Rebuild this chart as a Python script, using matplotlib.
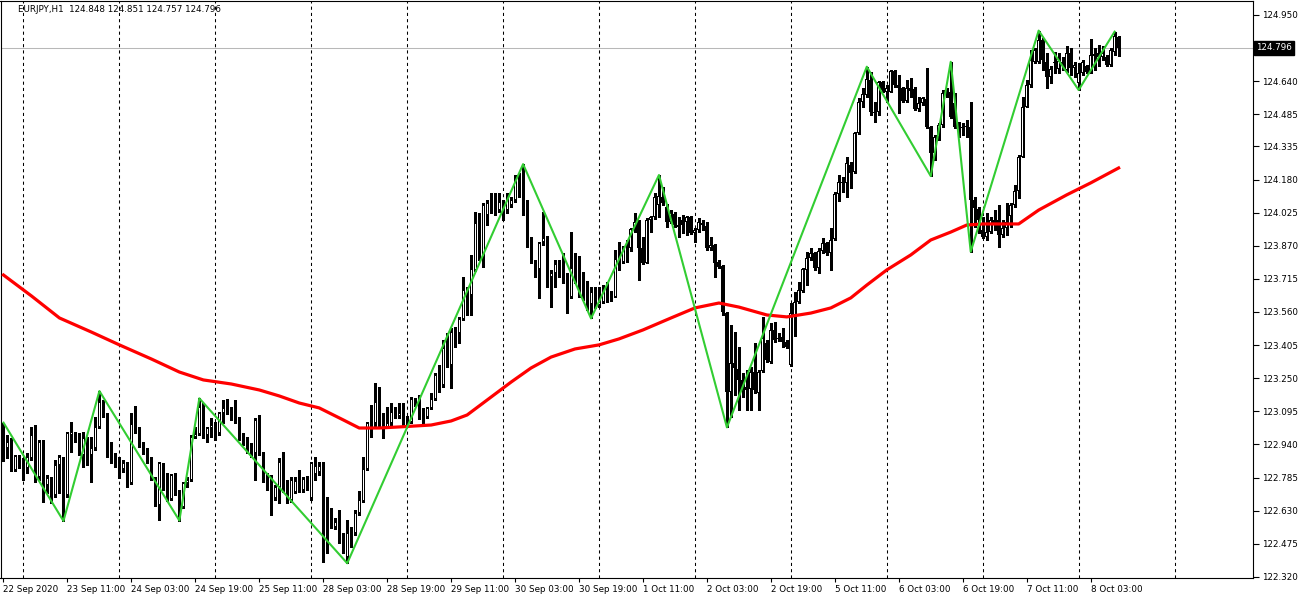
import numpy as np
import matplotlib.pyplot as plt
import matplotlib.transforms as mtransforms

# EURJPY H1 candles, oldest first
opens = [
    122.953, 122.922, 122.953, 122.821, 122.883, 122.844, 122.829, 122.875, 122.985, 122.790,
    122.953, 122.751, 122.782, 122.704, 122.844, 122.883, 122.704, 122.985, 122.996, 122.961,
    122.891, 122.969, 122.891, 122.922, 123.024, 123.141, 123.078, 122.889, 122.896, 122.880,
    122.824, 122.852, 122.758, 123.036, 123.000, 122.933, 122.907, 122.875, 122.782, 122.657,
    122.852, 122.797, 122.684, 122.797, 122.712, 122.649, 122.758, 122.774, 122.974, 122.989,
    123.114, 122.985, 123.016, 123.023, 122.992, 123.086, 123.109, 123.106, 123.098, 123.039,
    122.972, 122.964, 122.930, 122.899, 123.055, 122.899, 122.786, 122.793, 122.688, 122.743,
    122.860, 122.758, 122.680, 122.719, 122.771, 122.727, 122.782, 122.688, 122.802, 122.809,
    122.840, 122.626, 122.637, 122.553, 122.587, 122.501, 122.415, 122.525, 122.525, 122.618,
    122.677, 122.826, 123.039, 123.039, 123.141, 123.039, 123.024, 123.039, 123.094, 123.071,
    123.078, 123.055, 123.046, 123.153, 123.129, 123.067, 123.070, 123.109, 123.153, 123.265,
    123.218, 123.401, 123.312, 123.468, 123.463, 123.525, 123.663, 123.639, 123.756, 123.975,
    123.819, 124.014, 124.071, 124.034, 124.037, 124.076, 124.037, 124.060, 124.084, 124.181,
    124.143, 124.076, 123.866, 123.792, 123.760, 123.889, 123.909, 123.722, 123.741, 123.780,
    123.764, 123.728, 123.632, 123.764, 123.769, 123.741, 123.702, 123.597, 123.650, 123.593,
    123.608, 123.660, 123.624, 123.631, 123.806, 123.795, 123.850, 123.858, 123.947, 123.982,
    123.858, 123.791, 123.990, 124.003, 124.060, 124.099, 124.053, 123.982, 124.018, 123.967,
    123.990, 123.982, 124.003, 123.928, 123.943, 123.978, 123.962, 123.858, 123.873, 123.795,
    123.775, 123.557, 123.187, 123.323, 123.292, 123.242, 123.207, 123.198, 123.281, 123.179,
    123.285, 123.413, 123.327, 123.476, 123.437, 123.441, 123.421, 123.312, 123.546, 123.608,
    123.660, 123.756, 123.811, 123.835, 123.765, 123.846, 123.882, 123.835, 123.900, 124.111,
    124.162, 124.162, 124.248, 124.214, 124.396, 124.542, 124.576, 124.646, 124.498, 124.498,
    124.635, 124.591, 124.591, 124.688, 124.623, 124.610, 124.548, 124.607, 124.602, 124.508,
    124.540, 124.555, 124.424, 124.302, 124.377, 124.435, 124.596, 124.591, 124.536, 124.424,
    124.427, 124.427, 124.427, 124.084, 124.040, 123.944, 123.912, 123.936, 123.990, 123.990,
    123.920, 123.952, 124.007, 124.061, 124.124, 124.287, 124.521, 124.623, 124.732, 124.732,
    124.833, 124.732, 124.662, 124.724, 124.696, 124.732, 124.693, 124.771, 124.701, 124.631,
    124.677, 124.709, 124.685, 124.759, 124.771, 124.755, 124.755, 124.716, 124.779, 124.848,
]
highs = [
    123.042, 122.985, 122.969, 122.891, 122.891, 122.875, 122.899, 123.024, 123.031, 122.961,
    122.961, 122.797, 122.790, 122.868, 122.891, 122.883, 123.000, 123.047, 123.000, 122.992,
    123.000, 122.977, 122.977, 123.070, 123.190, 123.148, 123.086, 122.953, 122.902, 122.883,
    122.868, 122.860, 123.086, 123.120, 123.024, 122.953, 122.922, 122.880, 122.790, 122.860,
    122.855, 122.805, 122.802, 122.805, 122.727, 122.766, 122.790, 122.985, 123.024, 123.156,
    123.133, 123.023, 123.062, 123.047, 123.094, 123.148, 123.151, 123.117, 123.148, 123.070,
    122.992, 122.977, 122.945, 123.062, 123.078, 122.906, 122.805, 122.797, 122.750, 122.875,
    122.906, 122.774, 122.789, 122.786, 122.821, 122.786, 122.793, 122.860, 122.883, 122.860,
    122.860, 122.696, 122.642, 122.595, 122.634, 122.525, 122.587, 122.556, 122.634, 122.720,
    122.883, 123.047, 123.125, 123.227, 123.211, 123.086, 123.117, 123.133, 123.117, 123.133,
    123.133, 123.071, 123.160, 123.157, 123.171, 123.109, 123.117, 123.179, 123.273, 123.312,
    123.429, 123.460, 123.483, 123.491, 123.538, 123.725, 123.678, 123.826, 124.029, 124.021,
    124.068, 124.084, 124.115, 124.115, 124.115, 124.084, 124.115, 124.100, 124.201, 124.209,
    124.252, 124.084, 123.912, 123.803, 123.889, 124.029, 123.916, 123.756, 123.803, 123.803,
    123.834, 123.741, 123.936, 123.834, 123.822, 123.749, 123.707, 123.678, 123.678, 123.678,
    123.686, 123.702, 123.660, 123.850, 123.889, 123.869, 123.897, 123.951, 124.025, 123.990,
    123.912, 123.998, 124.009, 124.115, 124.201, 124.146, 124.065, 124.037, 124.029, 124.006,
    124.014, 124.009, 124.009, 123.951, 123.998, 123.990, 123.982, 123.912, 123.878, 123.803,
    123.780, 123.561, 123.499, 123.468, 123.398, 123.273, 123.288, 123.304, 123.413, 123.288,
    123.535, 123.429, 123.507, 123.515, 123.460, 123.483, 123.429, 123.600, 123.655, 123.702,
    123.764, 123.842, 123.858, 123.843, 123.858, 123.905, 123.889, 123.952, 124.123, 124.201,
    124.194, 124.287, 124.264, 124.404, 124.560, 124.607, 124.708, 124.685, 124.545, 124.641,
    124.641, 124.622, 124.693, 124.693, 124.669, 124.615, 124.646, 124.653, 124.611, 124.568,
    124.568, 124.700, 124.430, 124.388, 124.443, 124.599, 124.607, 124.731, 124.583, 124.451,
    124.443, 124.458, 124.544, 124.100, 124.053, 124.006, 124.022, 124.006, 124.037, 124.061,
    123.990, 124.069, 124.069, 124.155, 124.295, 124.568, 124.646, 124.787, 124.794, 124.877,
    124.841, 124.771, 124.709, 124.779, 124.771, 124.755, 124.805, 124.794, 124.732, 124.724,
    124.740, 124.716, 124.837, 124.794, 124.810, 124.805, 124.763, 124.794, 124.872, 124.851,
]
lows = [
    122.864, 122.875, 122.818, 122.818, 122.829, 122.774, 122.805, 122.868, 122.766, 122.774,
    122.673, 122.712, 122.665, 122.696, 122.712, 122.582, 122.696, 122.907, 122.953, 122.891,
    122.836, 122.844, 122.766, 122.914, 123.016, 123.070, 122.880, 122.852, 122.833, 122.782,
    122.813, 122.743, 122.755, 122.992, 122.930, 122.896, 122.852, 122.774, 122.652, 122.587,
    122.727, 122.677, 122.680, 122.704, 122.584, 122.641, 122.743, 122.771, 122.969, 122.985,
    122.970, 122.953, 122.977, 122.961, 122.984, 123.039, 123.083, 123.055, 123.039, 122.961,
    122.938, 122.899, 122.883, 122.774, 122.891, 122.766, 122.727, 122.610, 122.680, 122.665,
    122.719, 122.665, 122.672, 122.711, 122.719, 122.719, 122.727, 122.681, 122.774, 122.798,
    122.392, 122.431, 122.548, 122.543, 122.478, 122.431, 122.384, 122.462, 122.517, 122.610,
    122.673, 122.821, 122.977, 123.024, 123.024, 122.969, 123.016, 123.024, 123.063, 123.063,
    123.032, 123.024, 123.039, 123.118, 123.057, 123.039, 123.062, 123.104, 123.150, 123.187,
    123.210, 123.304, 123.202, 123.397, 123.413, 123.522, 123.546, 123.546, 123.753, 123.803,
    123.772, 123.967, 124.021, 124.014, 124.029, 123.990, 124.021, 124.053, 124.076, 124.100,
    124.014, 123.862, 123.788, 123.725, 123.624, 123.873, 123.678, 123.582, 123.678, 123.725,
    123.694, 123.554, 123.624, 123.694, 123.632, 123.616, 123.569, 123.530, 123.577, 123.585,
    123.600, 123.608, 123.613, 123.628, 123.756, 123.791, 123.795, 123.847, 123.936, 123.709,
    123.784, 123.787, 123.936, 123.993, 124.006, 124.060, 123.959, 123.975, 123.959, 123.912,
    123.928, 123.920, 123.925, 123.889, 123.936, 123.943, 123.850, 123.850, 123.725, 123.764,
    123.546, 123.020, 123.070, 123.171, 123.101, 123.164, 123.101, 123.101, 123.179, 123.101,
    123.281, 123.327, 123.320, 123.421, 123.426, 123.398, 123.390, 123.309, 123.448, 123.600,
    123.655, 123.687, 123.804, 123.757, 123.741, 123.835, 123.827, 123.757, 123.897, 124.080,
    124.123, 124.100, 124.139, 124.209, 124.392, 124.521, 124.568, 124.482, 124.451, 124.482,
    124.591, 124.545, 124.588, 124.615, 124.490, 124.545, 124.544, 124.568, 124.505, 124.502,
    124.529, 124.419, 124.196, 124.271, 124.365, 124.427, 124.568, 124.466, 124.419, 124.380,
    124.388, 124.380, 123.842, 123.959, 123.928, 123.905, 123.897, 123.928, 123.944, 123.866,
    123.912, 123.921, 123.960, 124.053, 124.092, 124.284, 124.518, 124.615, 124.724, 124.727,
    124.693, 124.607, 124.631, 124.677, 124.677, 124.693, 124.681, 124.670, 124.662, 124.599,
    124.670, 124.677, 124.677, 124.693, 124.709, 124.740, 124.709, 124.709, 124.763, 124.757,
]
closes = [
    122.868, 122.953, 122.821, 122.886, 122.840, 122.829, 122.883, 122.985, 122.774, 122.953,
    122.782, 122.782, 122.704, 122.844, 122.883, 122.704, 122.992, 123.000, 122.961, 122.899,
    122.969, 122.891, 122.922, 123.024, 123.141, 123.078, 122.886, 122.899, 122.875, 122.836,
    122.852, 122.758, 123.036, 122.996, 122.933, 122.902, 122.875, 122.782, 122.657, 122.855,
    122.797, 122.688, 122.797, 122.712, 122.693, 122.758, 122.774, 122.977, 122.989, 123.114,
    122.990, 123.016, 123.031, 123.008, 123.086, 123.109, 123.086, 123.089, 123.042, 122.969,
    122.961, 122.930, 122.899, 123.055, 122.899, 122.789, 122.797, 122.680, 122.743, 122.860,
    122.727, 122.680, 122.774, 122.771, 122.727, 122.777, 122.743, 122.852, 122.837, 122.840,
    122.423, 122.509, 122.553, 122.579, 122.481, 122.439, 122.525, 122.517, 122.618, 122.681,
    122.826, 123.039, 123.043, 123.141, 123.039, 122.977, 123.039, 123.094, 123.071, 123.086,
    123.047, 123.039, 123.153, 123.124, 123.062, 123.062, 123.109, 123.153, 123.265, 123.223,
    123.390, 123.312, 123.468, 123.421, 123.525, 123.663, 123.631, 123.759, 123.975, 123.819,
    124.060, 124.068, 124.029, 124.029, 124.076, 124.045, 124.084, 124.084, 124.181, 124.143,
    124.076, 123.866, 123.795, 123.760, 123.884, 123.905, 123.725, 123.741, 123.785, 123.764,
    123.725, 123.635, 123.764, 123.772, 123.678, 123.647, 123.593, 123.655, 123.585, 123.608,
    123.663, 123.624, 123.631, 123.806, 123.795, 123.858, 123.862, 123.947, 123.982, 123.858,
    123.787, 123.990, 124.003, 124.099, 124.103, 124.068, 123.982, 124.021, 123.967, 123.959,
    123.967, 124.003, 123.928, 123.943, 123.982, 123.967, 123.858, 123.873, 123.791, 123.772,
    123.561, 123.187, 123.323, 123.296, 123.242, 123.203, 123.195, 123.281, 123.195, 123.281,
    123.437, 123.335, 123.476, 123.429, 123.432, 123.421, 123.398, 123.554, 123.608, 123.663,
    123.760, 123.811, 123.835, 123.765, 123.846, 123.882, 123.835, 123.897, 124.111, 124.167,
    124.170, 124.256, 124.209, 124.396, 124.542, 124.579, 124.651, 124.498, 124.490, 124.635,
    124.599, 124.607, 124.688, 124.623, 124.607, 124.548, 124.607, 124.596, 124.508, 124.540,
    124.560, 124.424, 124.302, 124.377, 124.435, 124.583, 124.575, 124.474, 124.427, 124.430,
    124.423, 124.430, 124.084, 124.045, 123.990, 123.912, 123.936, 123.990, 123.978, 123.920,
    123.951, 123.983, 124.061, 124.124, 124.287, 124.521, 124.623, 124.740, 124.787, 124.833,
    124.740, 124.662, 124.696, 124.732, 124.737, 124.716, 124.771, 124.701, 124.716, 124.677,
    124.732, 124.681, 124.763, 124.766, 124.755, 124.771, 124.716, 124.787, 124.852, 124.796,
]

# red moving average, read at a number of bars
ma_bars = [0, 7, 14, 22, 29, 37, 44, 50, 57, 64, 69, 74, 79, 85, 89, 94, 99, 107, 112, 116,
           122, 127, 132, 137, 143, 149, 154, 160, 167, 173, 179, 184, 191, 196, 202, 207,
           212, 216, 221, 227, 232, 237, 241, 245, 252, 254, 259, 266, 272, 279]
ma_values = [123.733, 123.635, 123.532, 123.466, 123.406, 123.340, 123.279, 123.242, 123.223,
             123.195, 123.167, 123.134, 123.111, 123.055, 123.017, 123.017, 123.022, 123.031,
             123.050, 123.078, 123.162, 123.232, 123.298, 123.349, 123.387, 123.406, 123.434,
             123.476, 123.532, 123.579, 123.602, 123.583, 123.546, 123.537, 123.555, 123.579,
             123.626, 123.686, 123.757, 123.827, 123.897, 123.934, 123.967, 123.972, 123.972,
             123.972, 124.037, 124.108, 124.164, 124.234]

# zigzag pivots (bar index, 1 = swing high, 0 = swing low)
zz_bars = [0, 15, 24, 44, 49, 86, 130, 147, 164, 181, 216, 232, 237, 242, 259, 269, 278]
zz_high = [1, 0, 1, 0, 1, 0, 1, 0, 1, 0, 1, 0, 1, 0, 1, 0, 1]

time_ticks = list(range(0, 273, 16))
time_labels = ['22 Sep 2020', '23 Sep 11:00', '24 Sep 03:00', '24 Sep 19:00', '25 Sep 11:00',
               '28 Sep 03:00', '28 Sep 19:00', '29 Sep 11:00', '30 Sep 03:00', '30 Sep 19:00',
               '1 Oct 11:00', '2 Oct 03:00', '2 Oct 19:00', '5 Oct 11:00', '6 Oct 03:00',
               '6 Oct 19:00', '7 Oct 11:00', '8 Oct 03:00']
day_starts = [5, 29, 53, 77, 101, 125, 149, 173, 197, 221, 245, 269, 293]
price_ticks = [124.950, 124.640, 124.485, 124.335, 124.180, 124.025, 123.870, 123.715, 123.560,
               123.405, 123.250, 123.095, 122.940, 122.785, 122.630, 122.475, 122.320]

# plot setting
plt.rcParams['font.family'] = ['DejaVu Sans']
fs = 6.3
y_lo, y_hi = 122.315, 125.0155
px = (y_hi - y_lo) / 577  # one screen pixel in price units

o = np.array(opens)
h = np.array(highs)
l = np.array(lows)
c = np.array(closes)
x = np.arange(len(c))
up = c >= o
body_lo = np.minimum(o, c)
body_h = np.maximum(np.abs(c - o), px)

fig = plt.figure(figsize=(13, 6), dpi=100)
ax = fig.add_axes([0.5 / 1300, 22 / 600, 1252 / 1300, 577 / 600])
ax.set_xlim(-0.75, 312.5)
ax.set_ylim(y_lo, y_hi)

for d in day_starts:
    ax.axvline(d, color='black', lw=0.75, ls=(0, (3, 3)), zorder=0)

ax.axhline(c[-1], color='#b8b8b8', lw=0.75, zorder=1)

# candles: wick, black body, white inside for up bars
ax.vlines(x, l, h, color='black', lw=0.8, zorder=2, antialiased=False)
ax.bar(x, body_h, bottom=body_lo, width=0.75, color='black', linewidth=0,
       zorder=3, antialiased=False)
hollow = up & (body_h > 2.5 * px)
ax.bar(x[hollow], body_h[hollow] - 2 * px, bottom=body_lo[hollow] + px, width=0.25,
       color='white', linewidth=0, zorder=3.5, antialiased=False)

# indicators
ax.plot(ma_bars, ma_values, color='#ff0000', lw=2.3, zorder=4, solid_joinstyle='round')
zz_prices = [h[b] if hi else l[b] for b, hi in zip(zz_bars, zz_high)]
ax.plot(zz_bars, zz_prices, color='#32cd32', lw=1.5, zorder=5)

# axes
ax.yaxis.tick_right()
ax.set_yticks(price_ticks)
ax.set_yticklabels([f'{p:.3f}' for p in price_ticks], fontsize=fs)
ax.tick_params(axis='y', length=4, width=0.8, pad=3, direction='out')
ax.set_xticks(time_ticks)
ax.set_xticklabels(time_labels, fontsize=fs, ha='left')
ax.tick_params(axis='x', length=3, width=0.8, pad=2, direction='out')
for s in ax.spines.values():
    s.set_linewidth(0.8)

trans = mtransforms.blended_transform_factory(ax.transAxes, ax.transData)
ax.text(1.003, c[-1], f'{c[-1]:.3f}', transform=trans, ha='left', va='center',
        color='white', fontsize=fs, clip_on=False,
        bbox=dict(boxstyle='square,pad=0.25', fc='black', ec='black'))

header = f'EURJPY,H1  {o[-1]:.3f} {h[-1]:.3f} {l[-1]:.3f} {c[-1]:.3f}'
ax.text(18 / 1252, 1 - 9 / 577, header, transform=ax.transAxes, ha='left', va='center',
        fontsize=fs)

fig.savefig('out.png', dpi=100)
